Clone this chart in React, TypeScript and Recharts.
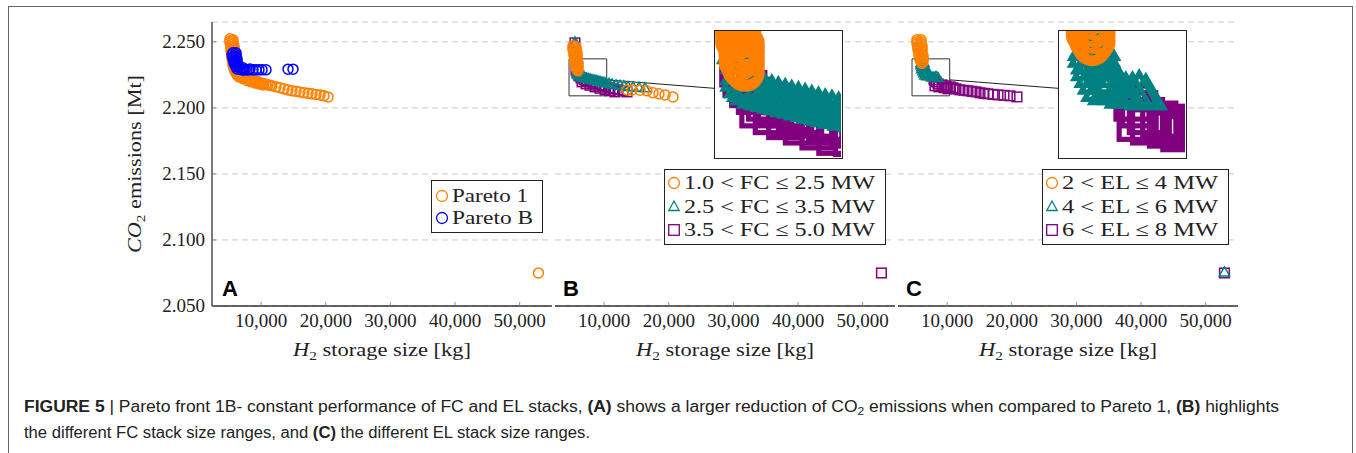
import { ScatterChart, Scatter, XAxis, YAxis, CartesianGrid, ReferenceArea, ReferenceLine, Label } from 'recharts'

// ticks
const xTicks = [10000, 20000, 30000, 40000, 50000]
const yTicks = [2.05, 2.1, 2.15, 2.2, 2.25]

// panel A: [H2 storage size kg, CO2 emissions Mt]
const paretoOne: [number, number][] = [
  [5190, 2.2523], [5650, 2.2515], [5190, 2.2508], [5650, 2.25], [5190, 2.2492], [5650, 2.2485], [5340, 2.2477],
  [5800, 2.247], [5340, 2.2462], [5800, 2.2455], [5340, 2.2447], [5800, 2.2439], [5340, 2.2432], [5800, 2.2424],
  [5490, 2.2417], [5960, 2.2409], [5490, 2.2402], [5960, 2.2394], [5490, 2.2386], [5960, 2.2379], [5490, 2.2371],
  [5960, 2.2364], [5650, 2.2356], [5960, 2.2348], [5650, 2.2341], [6110, 2.2333], [5650, 2.2326], [6110, 2.2318],
  [5800, 2.2311], [6110, 2.2303], [5800, 2.2295], [6270, 2.2288], [5960, 2.228], [6270, 2.2273], [6110, 2.2265],
  [6420, 2.2258], [6270, 2.225], [6730, 2.2242], [6580, 2.2235],
  [7040, 2.2235], [7350, 2.2227], [7660, 2.2223], [7970, 2.222], [8280, 2.2212], [8590, 2.2208], [8900, 2.2205],
  [9210, 2.2201], [9520, 2.2197], [9830, 2.2189], [10140, 2.2186], [10440, 2.2182], [10750, 2.2178],
  [11060, 2.2174], [11370, 2.2171], [11680, 2.2167],
  [7200, 2.222], [7820, 2.2208], [8430, 2.2197], [9050, 2.2189], [9670, 2.2182], [10290, 2.2174],
  [12300, 2.2159], [12920, 2.2152], [13540, 2.2144], [14160, 2.2136], [14780, 2.2129], [15400, 2.2125],
  [16010, 2.2121], [16630, 2.2114], [17250, 2.211], [17870, 2.2106], [18490, 2.2102], [19110, 2.2098],
  [19730, 2.2091], [20350, 2.2083], [52900, 2.075],
]
const paretoB: [number, number][] = [
  [5650, 2.2417], [6110, 2.2417], [5490, 2.2402], [6110, 2.2402], [5650, 2.2386], [6110, 2.2386], [5650, 2.2371],
  [6270, 2.2371], [5800, 2.2356], [6270, 2.2356], [5800, 2.2341], [6270, 2.2341], [5960, 2.2326], [6420, 2.2326],
  [6110, 2.2311], [6580, 2.2311], [6270, 2.2295], [6730, 2.2295], [7040, 2.2288], [7200, 2.2303], [7200, 2.2288],
  [7500, 2.2288], [7820, 2.2288], [8120, 2.2288], [8280, 2.2295], [8740, 2.2288], [9210, 2.2288], [9670, 2.2288],
  [10140, 2.2288], [10750, 2.2288], [14160, 2.2293], [14930, 2.2293],
]

// panel B: FC stack size ranges
const fcLow: [number, number][] = [
  [5190, 2.247], [5650, 2.2462], [5190, 2.2455], [5650, 2.2447], [5190, 2.2439], [5650, 2.2432], [5340, 2.2424],
  [5800, 2.2417], [5340, 2.2409], [5800, 2.2402], [5340, 2.2394], [5800, 2.2386], [5490, 2.2379], [5800, 2.2371],
  [5490, 2.2364], [5800, 2.2356], [5490, 2.2348], [5960, 2.2341], [5650, 2.2333], [5960, 2.2326], [5650, 2.2318],
  [5960, 2.2311], [5650, 2.2303], [5960, 2.2295], [5800, 2.2288], [5960, 2.228],
  [13540, 2.2136], [14310, 2.2136], [15550, 2.2133], [16630, 2.2129], [17560, 2.2114], [18490, 2.2106],
  [19420, 2.2098], [20650, 2.2083],
]
const fcMid: [number, number][] = [
  [5490, 2.2492], [5490, 2.2474], [5650, 2.2326], [5800, 2.2303], [5800, 2.228], [5800, 2.2265], [5960, 2.225],
  [6110, 2.2242], [6270, 2.2235], [6580, 2.2227], [6890, 2.2223], [7200, 2.222], [7500, 2.2216], [7820, 2.2212],
  [8120, 2.2208], [8430, 2.2205], [8740, 2.2201], [9050, 2.2197], [9360, 2.2193], [9670, 2.2189], [9980, 2.2186],
  [10290, 2.2182], [10750, 2.2178], [11220, 2.2174], [11840, 2.2167], [12460, 2.2163], [13070, 2.2159],
  [13690, 2.2155], [14470, 2.2152], [15400, 2.2148], [16320, 2.2144],
]
const fcHigh: [number, number][] = [
  [5490, 2.2492], [5650, 2.2288], [5800, 2.2265], [6110, 2.2242], [6420, 2.2227], [6890, 2.2212], [7350, 2.2205],
  [7820, 2.2197], [8280, 2.2189], [8740, 2.2182], [9210, 2.2174], [9670, 2.2167], [10140, 2.2159], [10750, 2.2152],
  [11370, 2.2144], [12150, 2.2136], [12920, 2.2129], [13540, 2.2121],
  [6580, 2.2197], [7200, 2.2182], [7820, 2.2171], [8590, 2.2159], [9360, 2.2148], [10140, 2.2136],
  [10910, 2.2129], [11680, 2.2121], [52900, 2.075],
]

// panel C: EL stack size ranges
const elLow: [number, number][] = [
  [5340, 2.2515], [5960, 2.2515], [5340, 2.25], [5960, 2.25], [5340, 2.2485], [5960, 2.2485], [5490, 2.247],
  [6110, 2.247], [5490, 2.2455], [6110, 2.2455], [5490, 2.2439], [6110, 2.2439], [5650, 2.2424], [6110, 2.2424],
  [5650, 2.2409], [6110, 2.2409], [5650, 2.2394], [6270, 2.2394], [5800, 2.2379], [6270, 2.2379], [5800, 2.2364],
  [6270, 2.2364], [5960, 2.2348], [6270, 2.2348], [6110, 2.2337],
]
const elMid: [number, number][] = [
  [5960, 2.2333], [6420, 2.2333], [5960, 2.2318], [6420, 2.2318], [6110, 2.2303], [6580, 2.2303], [6110, 2.2288],
  [6580, 2.2288], [6270, 2.2273], [6730, 2.2273], [6420, 2.2258], [6890, 2.2258], [6580, 2.2242], [7040, 2.225],
  [6890, 2.2235], [7350, 2.2235], [7660, 2.2227], [7970, 2.2227], [8280, 2.2231], [8590, 2.2223], [52900, 2.075],
]
const elHigh: [number, number][] = [
  [7970, 2.2212], [8280, 2.2197], [8590, 2.2182], [8120, 2.2167], [8740, 2.2159], [9210, 2.2174], [9520, 2.2152],
  [9830, 2.2167], [10140, 2.2144], [10440, 2.2159], [10910, 2.2152], [11370, 2.2144], [11990, 2.2136],
  [12610, 2.2133], [13230, 2.2129], [13850, 2.2125], [14470, 2.2121], [15090, 2.2114], [15700, 2.211],
  [16320, 2.2106], [17100, 2.2102], [17870, 2.2098], [18800, 2.2095], [19730, 2.2091], [20810, 2.2083],
  [52900, 2.075],
]

const legendA = ['Pareto 1', 'Pareto B']
const legendB = ['1.0 < FC ≤ 2.5 MW', '2.5 < FC ≤ 3.5 MW', '3.5 < FC ≤ 5.0 MW']
const legendC = ['2 < EL ≤ 4 MW', '4 < EL ≤ 6 MW', '6 < EL ≤ 8 MW']

const ORANGE = '#ff8000'
const BLUE = '#0000ff'
const TEAL = '#008080'
const VIOLET = '#800080'
const FRAME = '#333'
const SERIF = '"Liberation Serif", "Times New Roman", serif'
const SANS = '"Liberation Sans", Arial, sans-serif'

const X_DOMAIN: [number, number] = [2400, 55000]
const Y_DOMAIN: [number, number] = [2.05, 2.265]
const ZOOM_X: [number, number] = [4570, 10400]
const ZOOM_Y: [number, number] = [2.2091, 2.2371]
const PLOT_W = 340
const PLOT_H = 284
const PLOT_TOP = 22

type Marker = 'circle' | 'triangle' | 'square'
type Series = { name: string; data: [number, number][]; marker: Marker; color: string }

const toPts = (d: [number, number][]) => d.map(([x, y]) => ({ x, y }))

function markerShape(marker: Marker, color: string, k: number) {
  return (p: any) => {
    const { cx, cy } = p
    const sw = 1.5 * k
    if (marker === 'circle') return <circle cx={cx} cy={cy} r={5 * k} fill="none" stroke={color} strokeWidth={sw} />
    if (marker === 'square') {
      const h = 4.8 * k
      return <rect x={cx - h} y={cy - h} width={2 * h} height={2 * h} fill="none" stroke={color} strokeWidth={sw} />
    }
    const r = 6 * k
    return (
      <polygon
        points={`${cx},${cy - r} ${cx - r * 0.866},${cy + r / 2} ${cx + r * 0.866},${cy + r / 2}`}
        fill="none" stroke={color} strokeWidth={sw}
      />
    )
  }
}

const fmtX = (v: number) => v.toLocaleString('en-US')
const tickText = { fontFamily: SERIF, fontSize: 19, fill: '#222' }

const BottomTick = (p: any) => (
  <g>
    <line x1={p.x} x2={p.x} y1={p.y} y2={p.y - 4} stroke="#777" strokeWidth={0.8} />
    <text x={p.x} y={p.y + 21} textAnchor="middle" style={tickText}>{fmtX(p.payload.value)}</text>
  </g>
)
const TopTick = (p: any) => <line x1={p.x} x2={p.x} y1={p.y} y2={p.y + 4} stroke="#777" strokeWidth={0.8} />
const LeftTick = (p: any) => (
  <g>
    <line x1={p.x} x2={p.x + 4} y1={p.y} y2={p.y} stroke="#777" strokeWidth={0.8} />
    {p.withText && (
      <text x={p.x - 7} y={p.y + 6} textAnchor="end" style={tickText}>{p.payload.value.toFixed(3)}</text>
    )}
  </g>
)
const RightTick = (p: any) => <line x1={p.x} x2={p.x - 4} y1={p.y} y2={p.y} stroke="#777" strokeWidth={0.8} />

const XLabel = (p: any) => {
  const vb = p.viewBox
  return (
    <text x={vb.x + vb.width / 2 - 89} y={vb.y + 50} style={tickText} textLength={178} lengthAdjust="spacingAndGlyphs">
      <tspan fontStyle="italic">H</tspan>
      <tspan fontSize={13} dy={4}>2</tspan>
      <tspan dy={-4}>{' storage size [kg]'}</tspan>
    </text>
  )
}

const YLabel = (p: any) => {
  const vb = p.viewBox
  const cx = vb.x + 41
  const cy = vb.y + vb.height / 2 + 89
  return (
    <text x={cx} y={cy} transform={`rotate(-90 ${cx} ${cy})`} style={tickText} textLength={178} lengthAdjust="spacingAndGlyphs">
      <tspan fontStyle="italic">CO</tspan>
      <tspan fontSize={13} dy={4}>2</tspan>
      <tspan dy={-4}>{' emissions [Mt]'}</tspan>
    </text>
  )
}

type Zoom = { insetLeft: number; lineEndX: number }

function Panel({ left, series, yLabels, zoom }: { left: number; series: Series[]; yLabels: boolean; zoom?: Zoom }) {
  const yW = yLabels ? 112 : 0
  const axisLine = { stroke: FRAME, strokeWidth: 1.3 }
  return (
    <>
      <div style={{ position: 'absolute', left: left - yW, top: 0 }}>
        <ScatterChart width={yW + PLOT_W} height={PLOT_TOP + PLOT_H + 60} margin={{ top: PLOT_TOP, right: 0, bottom: 0, left: 0 }}>
          <CartesianGrid vertical={false} strokeDasharray="6 4" stroke="#c8c8c8" />
          <XAxis type="number" dataKey="x" domain={X_DOMAIN} ticks={xTicks} interval={0} allowDataOverflow height={60}
            tickSize={0} tickMargin={0} tickLine={false} axisLine={axisLine} tick={<BottomTick />}>
            <Label content={XLabel} />
          </XAxis>
          <XAxis xAxisId="top" orientation="top" type="number" domain={X_DOMAIN} ticks={xTicks} interval={0} allowDataOverflow
            height={0} tickSize={0} tickMargin={0} tickLine={false} axisLine={axisLine} tick={<TopTick />} />
          <YAxis type="number" dataKey="y" domain={Y_DOMAIN} ticks={yTicks} interval={0} allowDataOverflow width={yW}
            tickSize={0} tickMargin={0} tickLine={false} axisLine={axisLine} tick={<LeftTick withText={yLabels} />}>
            {yLabels && <Label content={YLabel} />}
          </YAxis>
          <YAxis yAxisId="right" orientation="right" type="number" domain={Y_DOMAIN} ticks={yTicks} interval={0} allowDataOverflow
            width={0} tickSize={0} tickMargin={0} tickLine={false} axisLine={axisLine} tick={<RightTick />} />
          {series.map((s) => (
            <Scatter key={s.name} name={s.name} data={toPts(s.data)} shape={markerShape(s.marker, s.color, 1)}
              isAnimationActive={false} legendType="none" />
          ))}
          {zoom && (
            <ReferenceArea x1={ZOOM_X[0]} x2={ZOOM_X[1]} y1={ZOOM_Y[0]} y2={ZOOM_Y[1]} fill="none" stroke="#333"
              strokeWidth={1} ifOverflow="visible" />
          )}
          {zoom && (
            <ReferenceLine segment={[{ x: ZOOM_X[1], y: 2.2212 }, { x: zoom.lineEndX, y: 2.2148 }]} stroke="#222"
              strokeWidth={1} ifOverflow="visible" />
          )}
        </ScatterChart>
      </div>
      {zoom && (
        <div style={{ position: 'absolute', left: zoom.insetLeft, top: 30, width: 129, height: 129, boxSizing: 'border-box',
          border: '1.5px solid #222', background: '#fff', overflow: 'hidden' }}>
          <ScatterChart width={126} height={126} margin={{ top: 0, right: 0, bottom: 0, left: 0 }}>
            <XAxis type="number" dataKey="x" domain={ZOOM_X} allowDataOverflow hide />
            <YAxis type="number" dataKey="y" domain={ZOOM_Y} allowDataOverflow hide />
            {series.map((s) => (
              <Scatter key={s.name} name={s.name} data={toPts(s.data)} shape={markerShape(s.marker, s.color, 3.45)}
                isAnimationActive={false} legendType="none" />
            ))}
          </ScatterChart>
        </div>
      )}
    </>
  )
}

const LegendMark = ({ marker, color, x, y }: { marker: Marker; color: string; x: number; y: number }) => {
  if (marker === 'circle') return <circle cx={x} cy={y} r={5.5} fill="none" stroke={color} strokeWidth={1.3} />
  if (marker === 'square') return <rect x={x - 5.3} y={y - 5.3} width={10.6} height={10.6} fill="none" stroke={color} strokeWidth={1.3} />
  return <polygon points={`${x},${y - 6} ${x - 5.2},${y + 3.5} ${x + 5.2},${y + 3.5}`} fill="none" stroke={color} strokeWidth={1.3} />
}

function LegendBox({ x, y, w, h, rows, labels, marks, textX, textLen }: {
  x: number; y: number; w: number; h: number; rows: number[]; labels: string[];
  marks: { marker: Marker; color: string }[]; textX: number; textLen: number[]
}) {
  return (
    <g>
      <rect x={x + 0.5} y={y + 0.5} width={w} height={h} fill="#fff" stroke="#222" strokeWidth={1} />
      {labels.map((l, i) => (
        <g key={l}>
          <LegendMark marker={marks[i].marker} color={marks[i].color} x={textX - 10} y={rows[i]} />
          <text x={textX} y={rows[i] + 6} fontFamily={SERIF} fontSize={19} fill="#222" textLength={textLen[i]}
            lengthAdjust="spacingAndGlyphs">{l}</text>
        </g>
      ))}
    </g>
  )
}

export default function App() {
  const seriesA: Series[] = [
    { name: 'Pareto 1', data: paretoOne, marker: 'circle', color: ORANGE },
    { name: 'Pareto B', data: paretoB, marker: 'circle', color: BLUE },
  ]
  const seriesB: Series[] = [
    { name: legendB[2], data: fcHigh, marker: 'square', color: VIOLET },
    { name: legendB[1], data: fcMid, marker: 'triangle', color: TEAL },
    { name: legendB[0], data: fcLow, marker: 'circle', color: ORANGE },
  ]
  const seriesC: Series[] = [
    { name: legendC[2], data: elHigh, marker: 'square', color: VIOLET },
    { name: legendC[1], data: elMid, marker: 'triangle', color: TEAL },
    { name: legendC[0], data: elLow, marker: 'circle', color: ORANGE },
  ]
  const threeMarks = [
    { marker: 'circle' as Marker, color: ORANGE },
    { marker: 'triangle' as Marker, color: TEAL },
    { marker: 'square' as Marker, color: VIOLET },
  ]
  return (
    <div style={{ position: 'relative', width: 1356, height: 453, overflow: 'hidden', background: '#fff' }}>
      <style>{'body{margin:0}'}</style>
      <Panel left={212} series={seriesA} yLabels />
      <Panel left={555} series={seriesB} yLabels={false} zoom={{ insetLeft: 714, lineEndX: 27000 }} />
      <Panel left={898} series={seriesC} yLabels={false} zoom={{ insetLeft: 1058, lineEndX: 27150 }} />
      <svg width={1356} height={453} style={{ position: 'absolute', left: 0, top: 0, pointerEvents: 'none' }}>
        <rect x={8.5} y={6.5} width={1344} height={470} fill="none" stroke="#666" strokeWidth={1} />
        <LegendBox x={431} y={180} w={111} h={52} rows={[196, 218]} labels={legendA}
          marks={[{ marker: 'circle', color: ORANGE }, { marker: 'circle', color: BLUE }]} textX={452} textLen={[76, 81]} />
        <LegendBox x={664} y={169} w={221} h={75} rows={[183, 207, 230]} labels={legendB}
          marks={threeMarks} textX={684} textLen={[191, 191, 191]} />
        <LegendBox x={1042} y={169} w={186} h={75} rows={[183, 207, 230]} labels={legendC}
          marks={threeMarks} textX={1062} textLen={[156, 156, 156]} />
        <text x={222} y={296} fontFamily={SANS} fontWeight="bold" fontSize={22} fill="#000">A</text>
        <text x={563} y={296} fontFamily={SANS} fontWeight="bold" fontSize={22} fill="#000">B</text>
        <text x={906} y={296} fontFamily={SANS} fontWeight="bold" fontSize={22} fill="#000">C</text>
        <text x={24} y={412} fontFamily={SANS} fontSize={16} fill="#222" textLength={1255} lengthAdjust="spacingAndGlyphs">
          <tspan fontWeight="bold">{'FIGURE 5'}</tspan>
          <tspan>{' | Pareto front 1B- constant performance of FC and EL stacks, '}</tspan>
          <tspan fontWeight="bold">{'(A)'}</tspan>
          <tspan>{' shows a larger reduction of CO'}</tspan>
          <tspan fontSize={11} dy={3}>2</tspan>
          <tspan dy={-3}>{' emissions when compared to Pareto 1, '}</tspan>
          <tspan fontWeight="bold">{'(B)'}</tspan>
          <tspan>{' highlights'}</tspan>
        </text>
        <text x={24} y={438} fontFamily={SANS} fontSize={16} fill="#222" textLength={566} lengthAdjust="spacingAndGlyphs">
          <tspan>{'the different FC stack size ranges, and '}</tspan>
          <tspan fontWeight="bold">{'(C)'}</tspan>
          <tspan>{' the different EL stack size ranges.'}</tspan>
        </text>
      </svg>
    </div>
  )
}
